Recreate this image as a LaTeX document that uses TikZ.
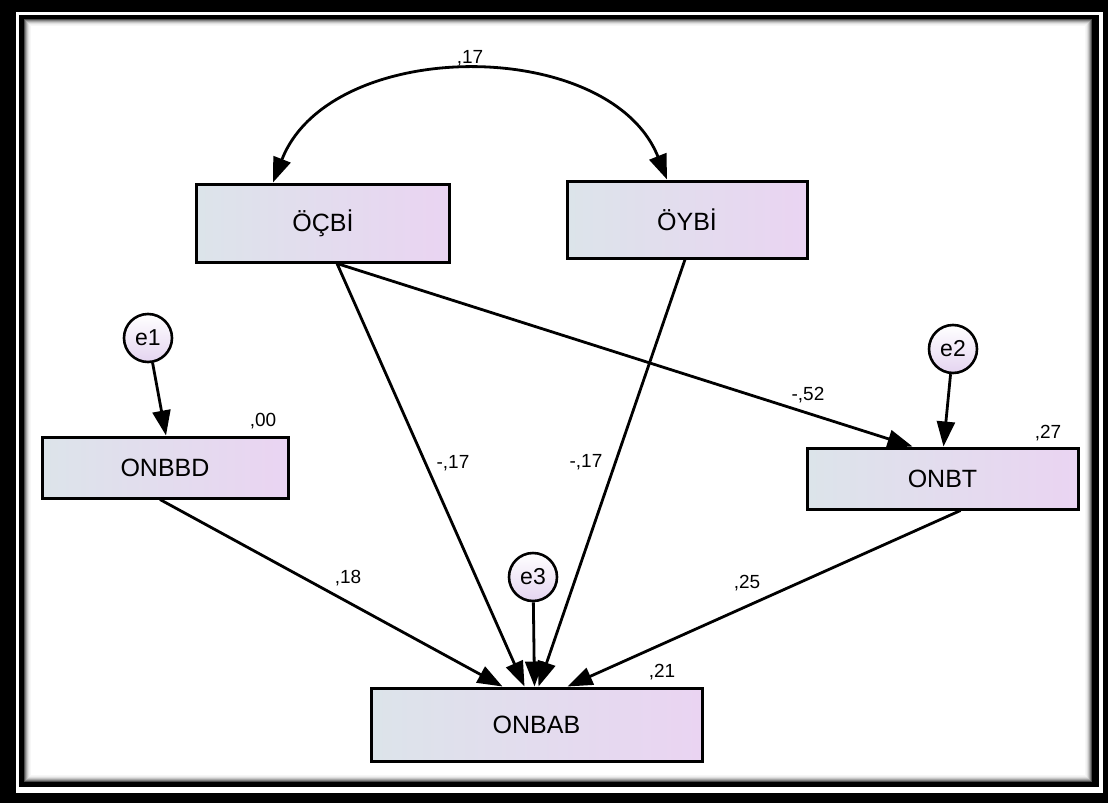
\documentclass[tikz,border=0pt]{standalone}
\usepackage{fontspec}
\setmainfont{Liberation Sans}
\usetikzlibrary{arrows.meta}
\definecolor{boxl}{RGB}{220,228,234}
\definecolor{boxr}{RGB}{234,212,242}
\definecolor{errb}{RGB}{228,212,240}

\tikzset{
  var/.style={draw,line width=3pt,inner sep=0pt,left color=boxl,right color=boxr,font=\fontsize{25}{30}\selectfont},
  err/.style={circle,draw,line width=2.6pt,inner sep=0pt,minimum size=48pt,top color=white,bottom color=errb,font=\fontsize{23}{27}\selectfont},
  reg/.style={line width=2.8pt,-{Triangle[length=25pt,width=18pt]}},
  est/.style={font=\fontsize{19}{22}\selectfont}
}

\begin{document}
\begin{tikzpicture}[x=1pt,y=-1pt]
\useasboundingbox (0,0) rectangle (1108,803);
% frame
\fill[black] (0,0) rectangle (1108,803);
\fill[white] (16,12) rectangle (1103,793);
\fill[black] (19,15) rectangle (1099,787);
\fill[white] (24,19) rectangle (1092,782);
\foreach \i/\c in {0/70,1/50,2/35,3/22,4/12,5/6,6/3}
  \draw[black!\c,line width=1pt] ({24.5+\i},{19.5+\i}) rectangle ({1091.5-\i},{781.5-\i});

\node (1) at (323,223) [var,minimum width=253pt,minimum height=78pt] {ÖÇBİ};
\node (2) at (687,219.5) [var,minimum width=240pt,minimum height=77pt] {ÖYBİ};
\node (3) at (165,467.5) [var,minimum width=246pt,minimum height=61pt] {ONBBD};
\node (4) at (942.5,478.5) [var,minimum width=271pt,minimum height=61pt] {ONBT};
\node (5) at (536.5,724.5) [var,minimum width=331pt,minimum height=73pt] {ONBAB};
\node (6) at (148,338) [err] {e1};
\node (7) at (953,349) [err] {e2};
\node (8) at (533,577) [err] {e3};

\node (9) at (470,58) [est] {,17};
\node (10) at (263,421) [est] {,00};
\node (11) at (1048,433) [est] {,27};
\node (12) at (662,672) [est] {,21};
\node (13) at (808,395) [est] {-,52};
\node (14) at (453,463) [est] {-,17};
\node (15) at (586,462) [est] {-,17};
\node (16) at (348,578) [est] {,18};
\node (17) at (747,583) [est] {,25};

\draw[reg,{Triangle[length=25pt,width=18pt]}-{Triangle[length=25pt,width=18pt]}] ([xshift=-50pt]1.north) .. controls (330,36) and (610,36) .. ([xshift=-20pt]2.north);
\draw[reg] (6) -- ([xshift=1pt]3.north);
\draw[reg] (7) -- ([xshift=1pt]4.north);
\draw[reg] (8) -- ([xshift=-2pt]5.north);
\draw[reg] ([xshift=14pt]1.south) -- ([xshift=-30pt]4.north);
\draw[reg] ([xshift=14pt]1.south) -- ([xshift=-12pt]5.north);
\draw[reg] ([xshift=-2pt]2.south) -- ([xshift=2pt]5.north);
\draw[reg] ([xshift=-5pt]3.south) -- ([xshift=-34pt]5.north);
\draw[reg] ([xshift=18pt]4.south) -- ([xshift=31pt]5.north);
\end{tikzpicture}
\end{document}
